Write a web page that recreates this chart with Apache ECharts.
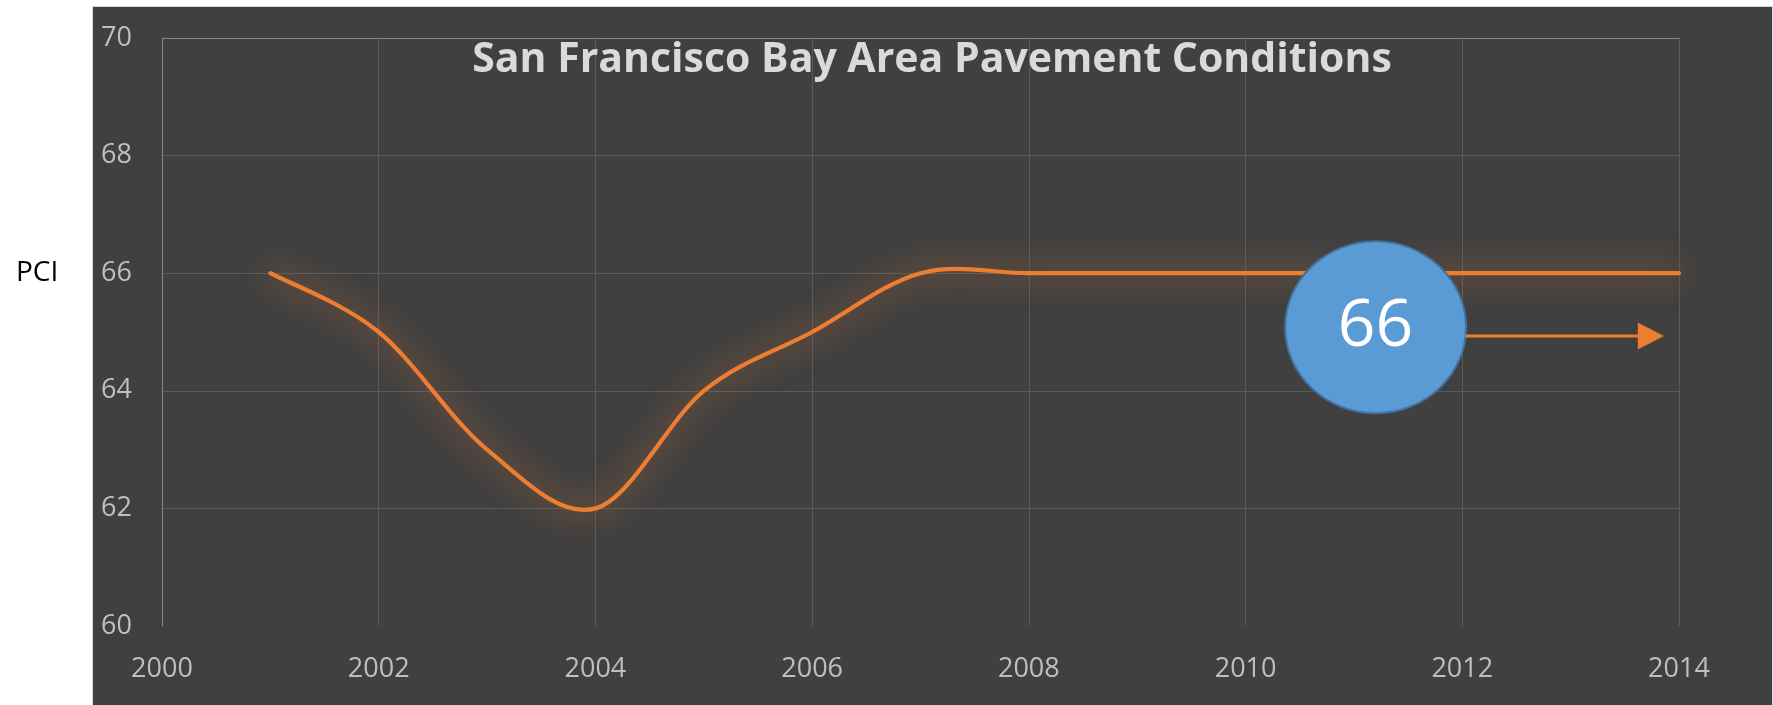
<!DOCTYPE html>
<html>
<head>
<meta charset="utf-8">
<script src="https://cdn.jsdelivr.net/npm/echarts@6/dist/echarts.min.js"></script>
<style>
  html, body { margin: 0; padding: 0; background: #ffffff; }
  #panel { position: absolute; left: 92px; top: 6px; width: 1681px; height: 700px;
           background: #404040; border: 1px solid #d9d9d9; border-bottom: none; box-sizing: border-box; }
  #chart { position: absolute; left: 0; top: 0; width: 1773px; height: 705px; }
</style>
</head>
<body>
<div id="panel"></div>
<div id="chart"></div>
<script>
// ---- data ----
const titleText = 'San Francisco Bay Area Pavement Conditions';
const yAxisTitle = 'PCI';
const years = [2001, 2002, 2003, 2004, 2005, 2006, 2007, 2008, 2009, 2010, 2011, 2012, 2013, 2014];
const pci   = [66,   65,   63,   62,   64,   65,   66,   66,   66,   66,   66,   66,   66,   66];
const xMin = 2000, xMax = 2014, xStep = 2;
const yMin = 60, yMax = 70, yStep = 2;
// callout annotation (in data coordinates)
const calloutText = '66';
const calloutAt = [2011.2, 65.08];
const arrowFrom = [2012.03, 64.93];
const arrowTo   = [2013.86, 64.93];

const ORANGE = '#ED7D31';
const GRID = '#5a5a5a';
const LABEL = '#bfbfbf';
const FONT = '"Open Sans", "Noto Sans", sans-serif';

const chart = echarts.init(document.getElementById('chart'), null, { renderer: 'canvas' });

// Excel-style smoothed line (Catmull-Rom through the data points, in pixel space)
function renderSmoothLine(params, api) {
  if (params.dataIndex !== 0) return;
  const pts = years.map((y, i) => api.coord([y, pci[i]]));
  const n = pts.length;
  let d = 'M' + pts[0][0] + ' ' + pts[0][1];
  for (let i = 0; i < n - 1; i++) {
    const p0 = pts[Math.max(i - 1, 0)], p1 = pts[i], p2 = pts[i + 1], p3 = pts[Math.min(i + 2, n - 1)];
    const c1x = p1[0] + (p2[0] - p0[0]) / 6, c1y = p1[1] + (p2[1] - p0[1]) / 6;
    const c2x = p2[0] - (p3[0] - p1[0]) / 6, c2y = p2[1] - (p3[1] - p1[1]) / 6;
    d += ' C' + c1x + ' ' + c1y + ' ' + c2x + ' ' + c2y + ' ' + p2[0] + ' ' + p2[1];
  }
  return {
    type: 'path',
    shape: { pathData: d },
    style: { fill: 'none', stroke: ORANGE, lineWidth: 4.2, lineCap: 'round', lineJoin: 'round',
             shadowColor: 'rgba(237,125,49,0.95)', shadowBlur: 30 }
  };
}

const option = {
  backgroundColor: 'transparent',
  animation: false,
  grid: { left: 162, right: 94, top: 38, bottom: 79, containLabel: false },
  xAxis: {
    type: 'value', min: xMin, max: xMax, interval: xStep,
    axisLine: { show: false },
    axisTick: { show: false },
    axisLabel: { color: LABEL, fontSize: 27, fontFamily: FONT, margin: 30, formatter: v => String(v) },
    splitLine: { show: true, lineStyle: { color: GRID, width: 1 } }
  },
  yAxis: {
    type: 'value', min: yMin, max: yMax, interval: yStep,
    axisLine: { show: true, lineStyle: { color: '#8a8a8a', width: 1 } },
    axisTick: { show: false },
    axisLabel: { color: LABEL, fontSize: 27, fontFamily: FONT, margin: 30 },
    splitLine: { show: true, lineStyle: { color: ['rgba(0,0,0,0)', GRID, GRID, GRID, GRID, '#8a8a8a'], width: 1 } }
  },
  series: [
    {
      type: 'custom',
      name: 'PCI',
      coordinateSystem: 'cartesian2d',
      data: years.map((y, i) => [y, pci[i]]),
      renderItem: renderSmoothLine,
      silent: true,
      z: 3
    },
    {
      type: 'scatter',
      data: [calloutAt],
      symbol: 'circle',
      symbolSize: [181, 172],
      silent: true,
      itemStyle: { color: '#5B9BD5', borderColor: '#41719C', borderWidth: 2, opacity: 1 },
      label: { show: true, position: 'inside', formatter: calloutText, color: '#ffffff',
               fontSize: 66, fontFamily: FONT },
      emphasis: { disabled: true },
      z: 5
    }
  ]
};
chart.setOption(option);

const p0 = chart.convertToPixel({ gridIndex: 0 }, arrowFrom);
const p1 = chart.convertToPixel({ gridIndex: 0 }, arrowTo);
const headLen = 26, headHalf = 13.5;

chart.setOption({
  graphic: [
    {
      type: 'text', position: [932, 60],
      style: { text: titleText, fill: '#dadada', font: 'bold 41px ' + FONT, textAlign: 'center', textVerticalAlign: 'middle' },
      z: 10
    },
    {
      type: 'text', position: [16, 273],
      style: { text: yAxisTitle, fill: '#000000', font: '28px ' + FONT, textAlign: 'left', textVerticalAlign: 'middle' },
      z: 10
    },
    {
      type: 'line',
      shape: { x1: p0[0], y1: p0[1], x2: p1[0] - headLen + 1, y2: p1[1] },
      style: { stroke: ORANGE, lineWidth: 3 },
      z: 10
    },
    {
      type: 'polygon',
      shape: { points: [[p1[0] - headLen, p1[1] - headHalf], [p1[0], p1[1]], [p1[0] - headLen, p1[1] + headHalf]] },
      style: { fill: ORANGE },
      z: 10
    }
  ]
});
</script>
</body>
</html>
